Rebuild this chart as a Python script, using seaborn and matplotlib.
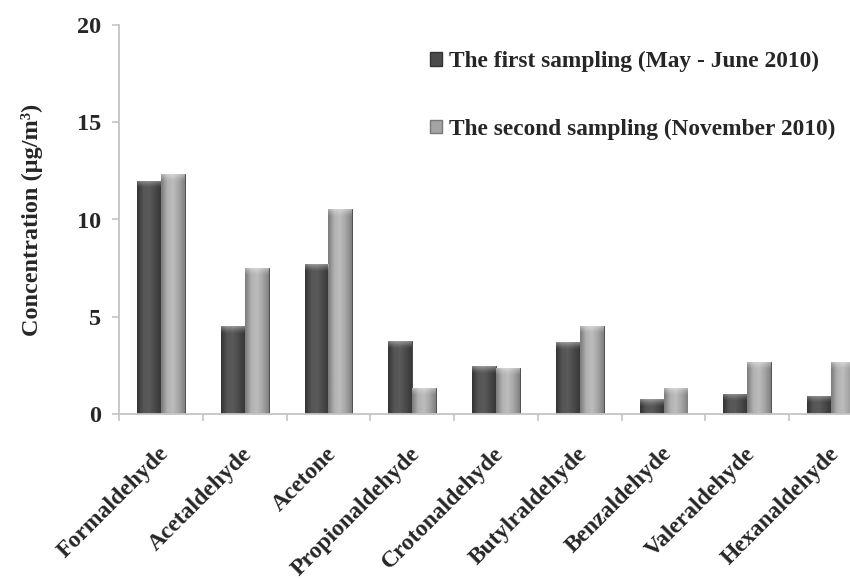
import numpy as np
import pandas as pd
import matplotlib
matplotlib.use('Agg')
import matplotlib.pyplot as plt
from matplotlib.colors import LinearSegmentedColormap
from matplotlib.patches import Patch
import matplotlib.transforms as mtransforms
import seaborn as sns

# values (ug/m3)
compounds = ['Formaldehyde', 'Acetaldehyde', 'Acetone', 'Propionaldehyde', 'Crotonaldehyde',
             'Butylraldehyde', 'Benzaldehyde', 'Valeraldehyde', 'Hexanaldehyde']
first_sampling = [12.0, 4.5, 7.7, 3.75, 2.45, 3.7, 0.75, 1.05, 0.95]
second_sampling = [12.35, 7.5, 10.55, 1.35, 2.35, 4.5, 1.35, 2.65, 2.65]
series_names = ['The first sampling (May - June 2010)', 'The second sampling (November 2010)']
y_ticks = [0, 5, 10, 15, 20]

df = pd.DataFrame({
    'compound': compounds * 2,
    'conc': first_sampling + second_sampling,
    'sampling': [series_names[0]] * len(compounds) + [series_names[1]] * len(compounds),
})

sns.set_style('white')
plt.rcParams['font.family'] = ['Liberation Serif', 'DejaVu Serif']
plt.rcParams['font.weight'] = 'bold'

dark = '#4b4b4b'
light = '#a4a4a4'

fig = plt.figure(figsize=(8.5, 5.79), dpi=100)
ax = fig.add_axes([119 / 850, 1 - 414 / 579, 754 / 850, (414 - 25) / 579])

sns.barplot(data=df, x='compound', y='conc', hue='sampling', order=compounds,
            hue_order=series_names, palette=[dark, light], saturation=1,
            width=0.57, edgecolor='#3a3a3a', linewidth=0.6, legend=False, ax=ax)

# cylinder-like shading on each bar
dark_cmap = LinearSegmentedColormap.from_list('d', ['#333333', '#555555', '#5a5a5a', '#4a4a4a', '#383838'])
light_cmap = LinearSegmentedColormap.from_list('l', ['#7a7a7a', '#b0b0b0', '#bdbdbd', '#a5a5a5', '#808080'])
grad = np.linspace(0, 1, 64).reshape(1, -1)
cap = np.zeros((32, 1, 4))
cap[..., :3] = 1.0
cap[:, 0, 3] = np.linspace(0.0, 0.55, 32) ** 1.5
for p in list(ax.patches):
    x0, y0, w, h = p.get_x(), p.get_y(), p.get_width(), p.get_height()
    if h <= 0:
        continue
    fc = p.get_facecolor()
    cmap = dark_cmap if fc[0] < 0.5 else light_cmap
    im = ax.imshow(grad, extent=[x0, x0 + w, y0, y0 + h], aspect='auto', cmap=cmap,
                   interpolation='bicubic', zorder=p.get_zorder() + 0.1)
    im.set_clip_path(p)
    capim = ax.imshow(cap, extent=[x0, x0 + w, y0 + h - 0.4, y0 + h], aspect='auto',
                      origin='lower', zorder=p.get_zorder() + 0.2)
    capim.set_clip_path(p)

ax.set_xlim(-0.5, len(compounds) - 0.5)
ax.set_ylim(0, 20)
ax.set_yticks(y_ticks)
ax.set_xlabel('')
ax.set_ylabel('Concentration (µg/m³)', fontsize=17.5, fontweight='bold', labelpad=24)

for s in ['top', 'right']:
    ax.spines[s].set_visible(False)
for s in ['left', 'bottom']:
    ax.spines[s].set_color('#c4c4c4')
    ax.spines[s].set_linewidth(1.3)

ax.set_xticks(np.arange(len(compounds)) - 0.5, minor=True)
ax.tick_params(axis='x', which='minor', length=5, width=1.2, color='#c4c4c4', direction='out', bottom=True)
ax.tick_params(axis='x', which='major', length=0, pad=21)
ax.tick_params(axis='y', length=5, width=1.2, color='#c4c4c4', direction='out', left=True, pad=8,
               labelsize=17.5)
for lab in ax.get_yticklabels():
    lab.set_fontweight('bold')

ax.set_xticks(np.arange(len(compounds)))
ax.set_xticklabels(compounds, rotation=45, ha='right', rotation_mode='anchor',
                   fontsize=17, fontweight='bold')
shift = mtransforms.ScaledTranslation(-2 / 72, 0, fig.dpi_scale_trans)
for lab in ax.get_xticklabels():
    lab.set_transform(lab.get_transform() + shift)

handles = [Patch(facecolor=dark, edgecolor='#333333'), Patch(facecolor=light, edgecolor='#777777')]
fig.legend(handles, series_names, loc='upper left', bbox_to_anchor=(430 / 850, 1 - 51 / 579),
           frameon=False, handlelength=0.5, handleheight=0.5, handletextpad=0.3,
           labelspacing=2.0, borderpad=0, borderaxespad=0,
           prop={'weight': 'bold', 'size': 16.8})

fig.savefig('out.png', dpi=100)
